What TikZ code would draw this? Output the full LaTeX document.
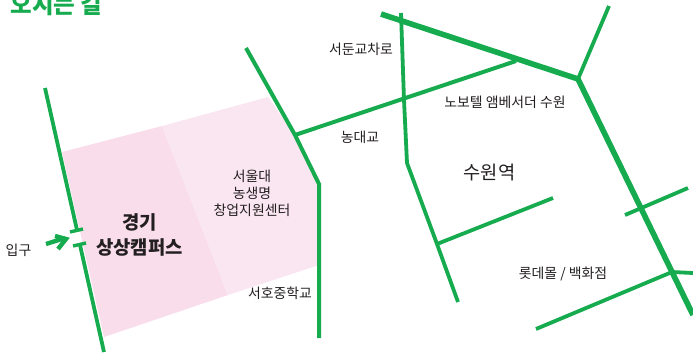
\documentclass[tikz,border=0pt]{standalone}
\usepackage{fontspec}
\setmainfont{Noto Sans CJK KR}
\definecolor{roadgreen}{HTML}{16AB4E}
\definecolor{pinkdark}{HTML}{F9DDEB}
\definecolor{pinklight}{HTML}{FAE6F0}
\definecolor{ink}{HTML}{231F20}
\tikzset{
  road/.style={draw=roadgreen,line width=3.8pt},
  mainroad/.style={draw=roadgreen,line width=5.6pt},
  tick/.style={draw=roadgreen,line width=3.4pt},
  lbl/.style={font=\fontsize{13.9}{17.2}\selectfont,text=ink,inner sep=0pt,align=center},
  lblbig/.style={font=\fontsize{18.7}{22}\selectfont,text=ink,inner sep=0pt,align=center},
  lblbold/.style={font=\fontsize{18.8}{25}\selectfont\bfseries,text=ink,inner sep=0pt,align=center}
}
\begin{document}
\begin{tikzpicture}[x=1pt,y=-1pt]
\useasboundingbox (0,0) rectangle (693,354);
\clip (0,0) rectangle (693,354);
\fill[pinkdark] (62,152) -- (162,126) -- (228,295) -- (104,337) -- cycle;
\fill[pinklight] (162,126) -- (268,97) -- (295,135) -- (319,184) -- (319,265) -- (228,295) -- cycle;
\coordinate (a1) at (45,88);
\coordinate (a2) at (77,230);
\coordinate (a3) at (80,245);
\coordinate (a4) at (104,352);
\draw[road] (a1) -- (a2);
\draw[road] (a3) -- (a4);
\draw[tick] (70,232) -- (83,229);
\draw[tick] (73,246) -- (86,243);
\draw[road,line width=4.4pt] (46,244) -- (65,238);
\draw[road,line width=4.4pt,miter limit=10] (55,236) -- (66,239) -- (58,249);
\coordinate (b1) at (246,48);
\coordinate (b2) at (295,135);
\coordinate (b3) at (319,184);
\coordinate (b4) at (319,338);
\draw[road,line width=4pt] (b1) -- (b2) -- (b3) -- (b4);
\coordinate (c1) at (516,61);
\draw[road,line width=4pt] (b2) -- (c1);
\coordinate (d1) at (381,14);
\coordinate (d2) at (578,79);
\coordinate (d3) at (693,315);
\draw[road] (d2) -- (609,6);
\draw[road] (401,13) -- (404,100) -- (407,163) -- (437,244) -- (458,302);
\draw[road] (437,244) -- (553,198);
\draw[road] (625,215) -- (688,188);
\draw[road] (536,329) -- (672,272) -- (693,273);
\draw[mainroad] (d1) -- (d2) -- (d3);
\node[font=\fontsize{23.5}{23.5}\selectfont\bfseries,text=roadgreen,inner sep=0pt,anchor=base west] (title) at (10.5,13) {오시는 길};
\node[lbl] (n1) at (361,49) {서둔교차로};
\node[lbl] (n2) at (360,137) {농대교};
\node[lbl] (n3) at (505,102) {노보텔 앰베서더 수원};
\node[lblbig] (n4) at (489.5,172) {수원역};
\node[lbl] (n5) at (252,193.5) {서울대\\농생명\\창업지원센터};
\node[lblbold] (n6) at (139.5,235) {경기\\상상캠퍼스};
\node[lbl] (n7) at (18.5,250) {입구};
\node[lbl] (n8) at (280,293) {서호중학교};
\node[lbl] (n9) at (563,274) {롯데몰 / 백화점};
\end{tikzpicture}
\end{document}
